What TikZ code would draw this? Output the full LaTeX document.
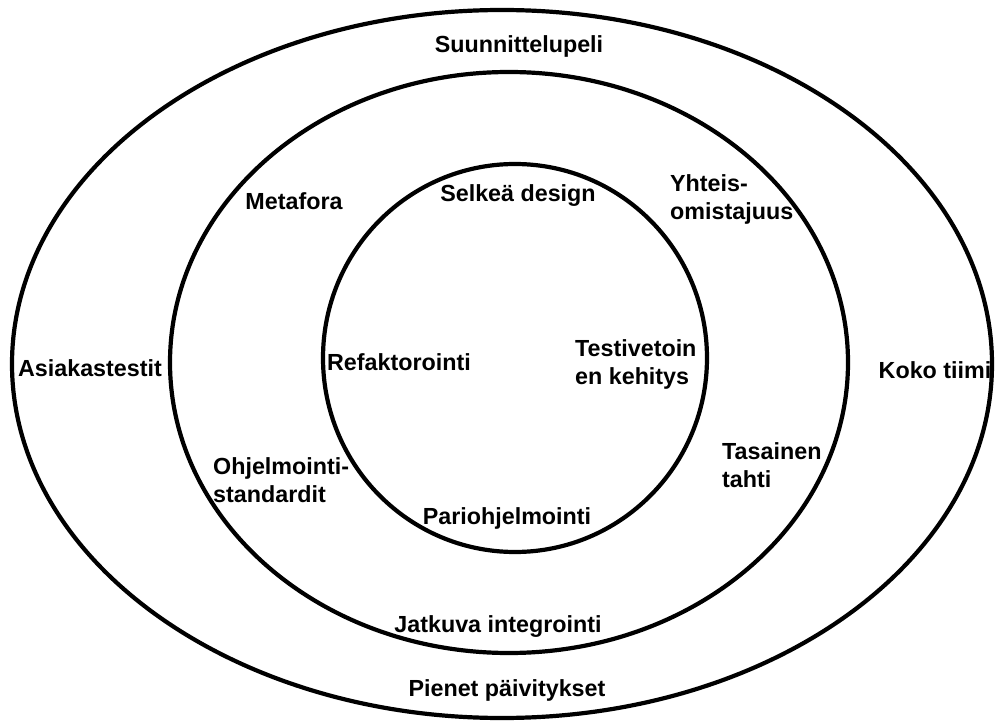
\documentclass[tikz,border=0pt]{standalone}
\usepackage{fontspec}
\setmainfont{Liberation Sans}
\begin{document}
\begin{tikzpicture}[x=1pt,y=-1pt,
  ring/.style={line width=4.2pt,draw=black},
  lbl/.style={font=\fontsize{23.3}{28}\selectfont\bfseries,inner sep=0pt,text=black},
  lblblock/.style={lbl,align=left,anchor=west}]
  \useasboundingbox[fill=white] (0,0) rectangle (997,722);

  % three nested rings
  \draw[ring] (502,364) ellipse [x radius=490pt, y radius=354pt];
  \draw[ring] (509,362.5) ellipse [x radius=339pt, y radius=290.5pt];
  \draw[ring] (515,358) ellipse [x radius=192pt, y radius=194pt];

  % outer ring
  \node[lbl] (plan) at (519,46) {Suunnittelupeli};
  \node[lbl] (cust) at (90,368) {Asiakastestit};
  \node[lbl] (team) at (935,370) {Koko tiimi};
  \node[lbl] (small) at (507,690) {Pienet päivitykset};

  % middle ring
  \node[lbl] (meta) at (294,201) {Metafora};
  \node[lblblock] (own) at (670,199) {Yhteis-\\omistajuus};
  \node[lblblock] (std) at (213,480) {Ohjelmointi-\\standardit};
  \node[lblblock] (pace) at (722,465) {Tasainen\\tahti};
  \node[lbl] (ci) at (498,627) {Jatkuva integrointi};

  % inner ring
  \node[lbl] (design) at (518,196) {Selkeä design};
  \node[lbl] (refac) at (399,362) {Refaktorointi};
  \node[lblblock] (tdd) at (575,364) {Testivetoin\\en kehitys};
  \node[lbl] (pair) at (507,518) {Pariohjelmointi};
\end{tikzpicture}
\end{document}
